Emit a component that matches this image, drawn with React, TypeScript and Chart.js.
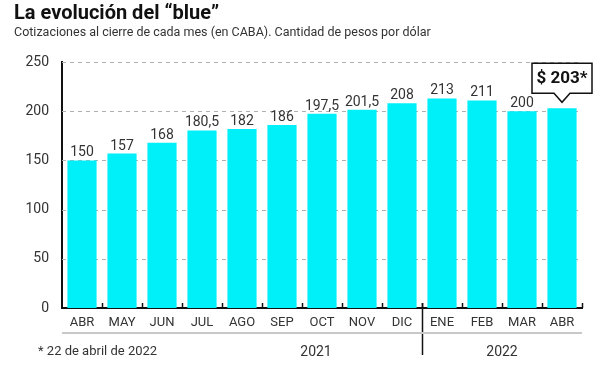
import React, { useEffect, useRef } from "react";
import { Chart, registerables } from "chart.js";

Chart.register(...registerables);

const categories = ["ABR", "MAY", "JUN", "JUL", "AGO", "SEP", "OCT", "NOV", "DIC", "ENE", "FEB", "MAR", "ABR"];
const values = [150, 157, 168, 180.5, 182, 186, 197.5, 201.5, 208, 213, 211, 200, 203];
const yTicks = [0, 50, 100, 150, 200, 250];
const years = ["2021", "2022"];
const title = "La evolución del “blue”";
const subtitle = "Cotizaciones al cierre de cada mes (en CABA). Cantidad de pesos por dólar";
const footnote = "* 22 de abril de 2022";
const calloutText = "$ 203*";

const FONT = "Roboto, 'Liberation Sans', sans-serif";
const BAR = "#00F0FA";

const fmt = (v: number) => String(v).replace(".", ",");

const gridPlugin = {
  id: "dashedGrid",
  beforeDatasetsDraw(chart: any) {
    const ctx = chart.ctx;
    const ys = chart.scales.y;
    const area = chart.chartArea;
    ctx.save();
    ctx.strokeStyle = "#b0b0b0";
    ctx.lineWidth = 1;
    ctx.setLineDash([4, 4]);
    yTicks.forEach((v) => {
      if (v === 0) return;
      const y = Math.round(ys.getPixelForValue(v)) + 0.5;
      ctx.beginPath();
      ctx.moveTo(area.left, y);
      ctx.lineTo(area.right, y);
      ctx.stroke();
    });
    ctx.restore();
  },
};

const overlay = {
  id: "overlay",
  afterDraw(chart: any) {
    const ctx = chart.ctx;
    const xs = chart.scales.x;
    const area = chart.chartArea;
    ctx.save();
    // title & subtitle
    ctx.fillStyle = "#111";
    ctx.textAlign = "left";
    ctx.textBaseline = "alphabetic";
    ctx.font = `bold 20px ${FONT}`;
    ctx.fillText(title, 14, 19);
    ctx.fillStyle = "#333";
    ctx.font = `12.5px ${FONT}`;
    ctx.fillText(subtitle, 14, 36);

    // data labels
    ctx.fillStyle = "#333";
    ctx.font = `14px ${FONT}`;
    ctx.textAlign = "center";
    const meta = chart.getDatasetMeta(0);
    meta.data.forEach((bar: any, i: number) => {
      if (i === values.length - 1) return;
      ctx.fillText(fmt(values[i]), bar.x, bar.y - 4);
    });

    // callout on last bar
    const last = meta.data[values.length - 1];
    const cx = last.x;
    const tipY = last.y - 6;
    const bh = 30, bw = 60, th = 9, tw = 8;
    const top = tipY - th - bh;
    ctx.beginPath();
    ctx.moveTo(cx - bw / 2, top);
    ctx.lineTo(cx + bw / 2, top);
    ctx.lineTo(cx + bw / 2, top + bh);
    ctx.lineTo(cx + tw, top + bh);
    ctx.lineTo(cx, tipY);
    ctx.lineTo(cx - tw, top + bh);
    ctx.lineTo(cx - bw / 2, top + bh);
    ctx.closePath();
    ctx.fillStyle = "#fff";
    ctx.fill();
    ctx.strokeStyle = "#111";
    ctx.lineWidth = 1.5;
    ctx.stroke();
    ctx.fillStyle = "#111";
    ctx.font = `bold 17px ${FONT}`;
    ctx.textBaseline = "middle";
    ctx.fillText(calloutText, cx, top + bh / 2 + 1);

    // tick marks at category boundaries
    ctx.strokeStyle = "#111";
    ctx.lineWidth = 1.5;
    const step = xs.getPixelForValue(1) - xs.getPixelForValue(0);
    for (let i = 1; i <= categories.length; i++) {
      const bx = Math.round(xs.getPixelForValue(i) - step / 2) + 0.5;
      ctx.beginPath();
      ctx.moveTo(bx, area.bottom);
      ctx.lineTo(bx, area.bottom - 5);
      ctx.stroke();
    }
    // year separator
    const sep = Math.round(xs.getPixelForValue(9) - step / 2) + 0.5;
    ctx.beginPath();
    ctx.moveTo(sep, area.bottom - 5);
    ctx.lineTo(sep, area.bottom + 47);
    ctx.stroke();

    // gray line under months
    ctx.strokeStyle = "#c8c8c8";
    ctx.lineWidth = 2;
    ctx.beginPath();
    ctx.moveTo(area.left, area.bottom + 25);
    ctx.lineTo(area.right, area.bottom + 25);
    ctx.stroke();

    // year labels & footnote
    ctx.fillStyle = "#333";
    ctx.font = `14px ${FONT}`;
    ctx.textAlign = "center";
    ctx.textBaseline = "middle";
    ctx.fillText(years[0], xs.getPixelForValue(6) - 6, area.bottom + 44);
    ctx.fillText(years[1], (xs.getPixelForValue(9) + xs.getPixelForValue(12)) / 2, area.bottom + 44);
    ctx.textAlign = "left";
    ctx.font = `13px ${FONT}`;
    ctx.fillText(footnote, 38, area.bottom + 44);
    ctx.restore();
  },
};

export default function App() {
  const ref = useRef<HTMLCanvasElement>(null);
  useEffect(() => {
    document.body.style.margin = "0";
    const chart = new Chart(ref.current!, {
      type: "bar",
      data: {
        labels: categories,
        datasets: [
          {
            data: values,
            backgroundColor: BAR,
            borderWidth: 0,
            barPercentage: 0.73,
            categoryPercentage: 1,
          },
        ],
      },
      options: {
        responsive: false,
        animation: false,
        layout: { padding: { left: 14, top: 62, right: 18, bottom: 0 } },
        plugins: { legend: { display: false }, tooltip: { enabled: false } },
        scales: {
          x: {
            afterFit: (s: any) => { s.height = 57; },
            grid: { display: false, drawTicks: false },
            border: { display: true, color: "#111", width: 2 },
            ticks: { color: "#333", font: { family: FONT, size: 13 }, padding: 7, maxRotation: 0, autoSkip: false },
          },
          y: {
            min: 0,
            max: 250,
            afterFit: (s: any) => { s.width = 48; },
            afterBuildTicks: (s: any) => { s.ticks = yTicks.map((v) => ({ value: v })); },
            grid: { display: false, drawTicks: false },
            border: { display: true, color: "#111", width: 2 },
            ticks: { color: "#333", font: { family: FONT, size: 14 }, padding: 13 },
          },
        },
      },
      plugins: [gridPlugin, overlay],
    });
    return () => chart.destroy();
  }, []);
  return <canvas ref={ref} width={600} height={365} style={{ display: "block" }} />;
}
